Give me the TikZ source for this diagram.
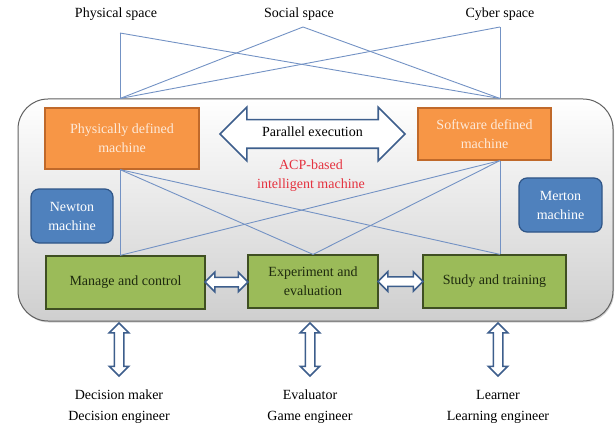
\documentclass[tikz,border=0pt]{standalone}
\usepackage{fontspec}
\setmainfont{Liberation Serif}
\usetikzlibrary{shapes.arrows,shadows,calc}
\definecolor{lineblue}{HTML}{7392C4}
\definecolor{orfill}{HTML}{F79646}
\definecolor{ordraw}{HTML}{C0692A}
\definecolor{ortext}{HTML}{FDEADA}
\definecolor{bfill}{HTML}{4F81BD}
\definecolor{bdraw}{HTML}{2F5587}
\definecolor{gfill}{HTML}{9BBB59}
\definecolor{gdraw}{HTML}{3F4F22}
\definecolor{gtext}{HTML}{1E2A0E}
\definecolor{arrdraw}{HTML}{3D5E8C}
\definecolor{acpred}{HTML}{E5323F}
\begin{document}
\begin{tikzpicture}[x=1pt,y=-1pt,
  lbl/.style={font=\fontsize{14}{21}\selectfont, align=center, inner sep=0pt},
  link/.style={draw=lineblue, line width=0.9pt},
  box/.style={draw, line width=1.2pt, align=center, inner sep=0pt, font=\fontsize{14}{19}\selectfont},
  orbox/.style={box, fill=orfill, draw=ordraw, text=ortext},
  bbox/.style={box, fill=bfill, draw=bdraw, text=white, rounded corners=8pt},
  gbox/.style={box, fill=gfill, draw=gdraw, text=gtext},
  dbl/.style={double arrow, draw=arrdraw, fill=white, line width=1.5pt, inner xsep=0pt, inner ysep=4pt, double arrow head extend=5pt, minimum width=18pt},
  container/.style={draw=gray!75!black, line width=1pt, rounded corners=30pt, top color=white, bottom color=gray!38, drop shadow={opacity=0.35, shadow xshift=1pt, shadow yshift=-1.5pt}}
]
\useasboundingbox (0,0) rectangle (616,425);

% outer container
\node[container, minimum width=595pt, minimum height=222pt] (cont) at (315.5,210) {};

% top labels
\node[lbl] (phys) at (116,14) {Physical space};
\node[lbl] (soc) at (299,14) {Social space};
\node[lbl] (cyb) at (500,14) {Cyber space};

\coordinate (pt) at (120,33);
\coordinate (st) at (303,27);
\coordinate (ct) at (500,27);
\coordinate (pb) at (cont.north -| pt);
\coordinate (cb) at (cont.north -| ct);

\draw[link] (pt) -- (pb);
\draw[link] (ct) -- (cb);
\draw[link] (pt) -- (cb);
\draw[link] (st) -- (pb);
\draw[link] (st) -- (cb);
\draw[link] (ct) -- (pb);

% boxes
\node[orbox, minimum width=154pt, minimum height=61pt] (pdm) at (122,138.5) {Physically defined\\machine};
\node[orbox, minimum width=133pt, minimum height=52pt] (sdm) at (484.5,134) {Software defined\\machine};
\node[bbox, minimum width=82pt, minimum height=54pt] (newton) at (72,216) {Newton\\machine};
\node[bbox, minimum width=83pt, minimum height=54pt] (merton) at (560.5,205) {Merton\\machine};
\node[gbox, minimum width=159pt, minimum height=53pt] (man) at (125.5,282.5) {Manage and control};
\node[gbox, minimum width=130pt, minimum height=53pt] (exp) at (313,281.5) {Experiment and\\evaluation};
\node[gbox, minimum width=143pt, minimum height=53pt] (stu) at (494.5,281.5) {Study and training};

% parallel execution arrow
\node[double arrow, draw=arrdraw, fill=white, line width=1.6pt, inner xsep=4pt, inner ysep=7.5pt,
      text height=9pt, text depth=3pt, double arrow head extend=12.5pt, minimum height=185pt,
      font=\fontsize{14}{19}\selectfont] (par) at (312.5,134) {Parallel execution};

\node[align=center, text=acpred, font=\fontsize{14}{19}\selectfont, inner sep=0pt] (acp) at (311,176) {ACP-based\\intelligent machine};

% inner links
\draw[link] (pdm.south -| pt) -- (man.north -| pt);
\draw[link] (pdm.south -| pt) -- (exp.north);
\draw[link] (pdm.south -| pt) -- (stu.north -| ct);
\draw[link] (sdm.south -| ct) -- (stu.north -| ct);
\draw[link] (sdm.south -| ct) -- (exp.north);
\draw[link] (sdm.south -| ct) -- (man.north -| pt);

% small double arrows between green boxes
\node[dbl, minimum height=43pt] (a1) at ($(man.east)!0.5!(exp.west)$) {};
\node[dbl, minimum height=45pt] (a2) at ($(exp.east)!0.5!(stu.west)$) {};

% bottom labels
\node[lbl] (dm) at (119,407) {Decision maker\\Decision engineer};
\node[lbl] (ev) at (310,407) {Evaluator\\Game engineer};
\node[lbl] (le) at (498,407) {Learner\\Learning engineer};

% bottom vertical arrows
\node[dbl, rotate=90, minimum height=53pt] (b1) at (119,349.5) {};
\node[dbl, rotate=90, minimum height=53pt] (b2) at (310,349.5) {};
\node[dbl, rotate=90, minimum height=53pt] (b3) at (498,349.5) {};
\end{tikzpicture}
\end{document}
